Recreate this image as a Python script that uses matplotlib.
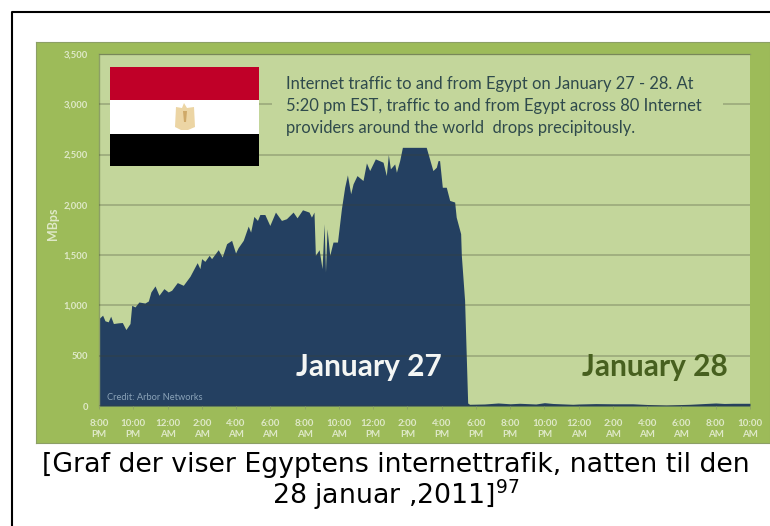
import matplotlib
matplotlib.use('Agg')
import matplotlib.pyplot as plt
from matplotlib.patches import Rectangle, Polygon

W, H = 770, 526

# hours since 8:00 PM
hours = [0, .21, .35, .54, .68, .84, 1.13, 1.36, 1.57, 1.81, 1.91, 2.1, 2.33, 2.68, 2.88, 3.03,
         3.27, 3.5, 3.79, 4.04, 4.24, 4.57, 4.92, 5.31, 5.73, 5.89, 5.99, 6.18, 6.43, 6.57,
         6.96, 7.19, 7.45, 7.74, 7.97, 8.12, 8.42, 8.71, 8.85, 9.04, 9.25, 9.39, 9.68, 9.97,
         10.3, 10.65, 10.94, 11.33, 11.56, 11.88, 12.26, 12.4, 12.55, 12.63, 12.85, 13.02,
         13.14, 13.22, 13.31, 13.47, 13.66, 13.92, 14.15, 14.34, 14.5, 14.69, 14.83, 15.06,
         15.41, 15.61, 15.8, 16.13, 16.58, 16.77, 16.89, 17.01, 17.26, 17.36, 17.55, 17.71,
         19.1, 19.49, 19.69, 19.79, 19.88, 20.04, 20.27, 20.47, 20.76, 20.85, 21.11, 21.15,
         21.34, 21.52, 21.63, 22.5, 23.3, 24, 24.55, 25.5, 26, 26.5, 27.66, 28, 29, 30,
         31.15, 32, 33.1, 34.5, 35.4, 36, 36.5, 37, 38]
mbps = [870, 903, 847, 837, 893, 820, 827, 830, 760, 820, 1001, 985, 1034, 1024, 1044, 1134,
        1194, 1101, 1167, 1134, 1151, 1227, 1200, 1290, 1425, 1366, 1465, 1438, 1498, 1465,
        1554, 1481, 1614, 1647, 1521, 1574, 1647, 1789, 1729, 1885, 1845, 1904, 1904, 1795,
        1928, 1845, 1862, 1928, 1871, 1951, 1928, 1878, 1928, 1498, 1554, 1366,
        1812, 1332, 1762, 1498, 1630, 1630, 1961, 2175, 2298, 2110, 2209, 2291,
        2242, 2417, 2341, 2457, 2424, 2291, 2500, 2358, 2407, 2324, 2440, 2572,
        2572, 2341, 2374, 2440, 2440, 2175, 2175, 2044, 2028, 1878, 1713, 1498,
        1051, 30, 17, 20, 30, 22, 27, 20, 33, 25, 17, 20, 24, 22,
        22, 15, 10, 17, 25, 30, 25, 27, 27]

y_ticks = [0, 500, 1000, 1500, 2000, 2500, 3000, 3500]
y_labels = ['0', '500', '1,000', '1,500', '2,000', '2,500', '3,000', '3,500']
x_ticks = list(range(0, 39, 2))
x_labels = ['8:00\nPM', '10:00\nPM', '12:00\nAM', '2:00\nAM', '4:00\nAM', '6:00\nAM', '8:00\nAM',
            '10:00\nAM', '12:00\nPM', '2:00\nPM', '4:00\nPM', '6:00\nPM', '8:00\nPM', '10:00\nPM',
            '12:00\nAM', '2:00\nAM', '4:00\nAM', '6:00\nAM', '8:00\nAM', '10:00\nAM']

PANEL = '#9dbb59'
PLOT_BG = '#c3d69b'
NAVY = '#244061'
TICK_TEXT = '#dfe9c8'


def box(x0, y0, x1, y1):
    # pixel box (y from the top) to figure fractions
    return [x0 / W, 1 - y1 / H, (x1 - x0) / W, (y1 - y0) / H]


def px(x, y):
    return x / W, 1 - y / H


fig = plt.figure(figsize=(W / 100, H / 100), dpi=100, facecolor='white')

# thin black frame, only top and left reach the picture
fig.add_artist(plt.Line2D([11.5 / W, 11.5 / W, 1], [0, 1 - 12 / H, 1 - 12 / H], color='black', lw=1.5))

# green panel goes in its own axes so it sits under the plot
ax_panel = fig.add_axes(box(36, 42, 770, 443), zorder=-1)
ax_panel.set_facecolor(PANEL)
ax_panel.set_xticks([])
ax_panel.set_yticks([])
for spine in ax_panel.spines.values():
    spine.set_color('#8c9f66')

ax = fig.add_axes(box(99, 54, 750, 406), zorder=1)
ax.set_facecolor(PLOT_BG)
ax.fill_between(hours, mbps, 0, color=NAVY, lw=0, zorder=2)
ax.set_xlim(0, 38)
ax.set_ylim(0, 3500)

ax.set_yticks(y_ticks, y_labels, fontsize=6.8, color=TICK_TEXT, family='Lato', fontweight='bold')
ax.set_xticks(x_ticks, x_labels, fontsize=7, color=TICK_TEXT, family='Lato', fontweight='bold',
              linespacing=1.35)
ax.tick_params(axis='y', length=0, pad=8)
ax.tick_params(axis='x', length=2, width=0.6, color='#8c9f66', pad=7)
ax.yaxis.grid(True, color='#3f4030', alpha=0.3, lw=1.2, zorder=3)
ax.set_axisbelow(False)
for side in ['right', 'bottom']:
    ax.spines[side].set_visible(False)
for side in ['left', 'top']:
    ax.spines[side].set_color('#8c9f66')
    ax.spines[side].set_linewidth(1)

fig.text(*px(53, 224), 'MBps', rotation=90, ha='center', va='center', fontsize=9,
         color=TICK_TEXT, family='Lato', fontweight='bold', zorder=6)

# box behind the note hides the gridline
ax_note = fig.add_axes(box(272, 70, 723, 142), zorder=4)
ax_note.set_facecolor(PLOT_BG)
ax_note.set_xticks([])
ax_note.set_yticks([])
for spine in ax_note.spines.values():
    spine.set_visible(False)
note = ['Internet traffic to and from Egypt on January 27 - 28. At',
        '5:20 pm EST, traffic to and from Egypt across 80 Internet',
        'providers around the world  drops precipitously.']
for line, yy in zip(note, [84, 106, 128]):
    fig.text(*px(286, yy), line, ha='left', va='center', fontsize=11.9, color='#2f4a4c',
             family='Lato', zorder=6)

# flag
ax_flag = fig.add_axes(box(110, 67, 259, 166), zorder=5)
ax_flag.set_xlim(110, 259)
ax_flag.set_ylim(166, 67)
ax_flag.axis('off')
ax_flag.add_patch(Rectangle((110, 67), 149, 33, color='#c00028', lw=0))
ax_flag.add_patch(Rectangle((110, 100), 149, 34, color='white', lw=0))
ax_flag.add_patch(Rectangle((110, 134), 149, 32, color='black', lw=0))
ax_flag.add_patch(Polygon([(184, 103), (187, 108), (194, 107), (195, 127), (188, 130), (181, 130),
                           (175, 127), (176, 107), (182, 108)], color='#ecd5a4', lw=0))
ax_flag.add_patch(Polygon([(183, 111), (187, 111), (186, 122), (184, 122)], color='#cfa968', lw=0))

fig.text(*px(368.5, 367), 'January 27', ha='center', va='center', fontsize=21.5, color='#f4f6f4',
         family='Lato', fontweight='bold', zorder=6)
fig.text(*px(654.5, 367), 'January 28', ha='center', va='center', fontsize=21.5, color='#47601f',
         family='Lato', fontweight='bold', zorder=6)
fig.text(*px(107, 398), 'Credit: Arbor Networks', ha='left', va='center', fontsize=6.7,
         color='#8ba3b8', family='Lato', zorder=6)

fig.text(*px(395.5, 472), '[Graf der viser Egyptens internettrafik, natten til den', ha='center',
         va='baseline', fontsize=19.3, color='black', family='DejaVu Sans')
fig.text(*px(395.5, 504), '28 januar ,2011]$^{97}$', ha='center', va='baseline', fontsize=19.3,
         color='black', family='DejaVu Sans')

fig.savefig('out.png', dpi=100)
